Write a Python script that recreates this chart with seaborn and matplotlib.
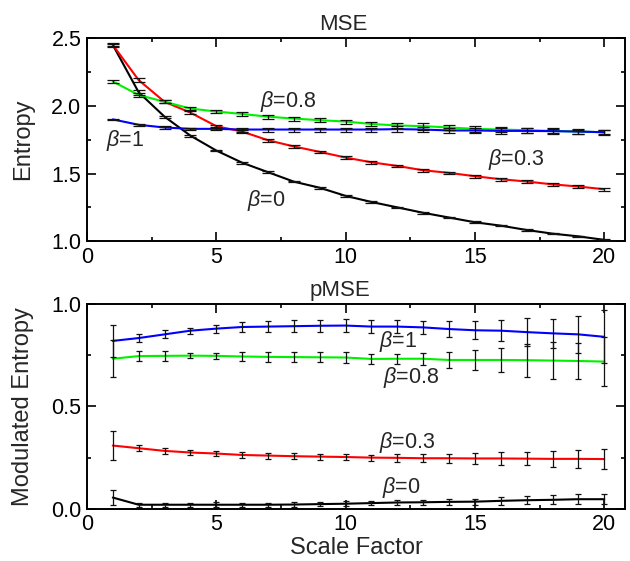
import numpy as np
import pandas as pd
import matplotlib
matplotlib.use("Agg")
import matplotlib.pyplot as plt
import seaborn as sns
from matplotlib.ticker import MultipleLocator

sns.set_style("ticks")
plt.rcParams['font.family'] = ['Liberation Sans', 'DejaVu Sans']
plt.rcParams['mathtext.fontset'] = 'custom'
plt.rcParams['mathtext.it'] = 'Liberation Sans:italic'
plt.rcParams['mathtext.rm'] = 'Liberation Sans'

scale = list(range(1, 21))
betas = ["0", "0.3", "0.8", "1"]
colors = {"0": "#000000", "0.3": "#ff0000", "0.8": "#00f000", "1": "#0000ff"}

# MSE (top)
mse_b0 = [2.45, 2.10, 1.92, 1.78, 1.67, 1.58, 1.51, 1.44, 1.395, 1.335, 1.29, 1.25, 1.21, 1.175, 1.14, 1.115, 1.083, 1.056, 1.036, 1.01]
mse_b03 = [2.45, 2.19, 2.03, 1.95, 1.85, 1.81, 1.746, 1.70, 1.66, 1.618, 1.583, 1.556, 1.524, 1.505, 1.48, 1.458, 1.441, 1.42, 1.404, 1.384]
mse_b08 = [2.18, 2.08, 2.03, 1.98, 1.958, 1.94, 1.92, 1.906, 1.894, 1.884, 1.866, 1.855, 1.85, 1.84, 1.83, 1.825, 1.82, 1.815, 1.81, 1.805]
mse_b1 = [1.90, 1.86, 1.84, 1.83, 1.83, 1.825, 1.825, 1.825, 1.825, 1.825, 1.825, 1.828, 1.825, 1.818, 1.818, 1.815, 1.815, 1.813, 1.81, 1.805]
mse_e0 = [0.012, 0.02, 0.008, 0.008, 0.006, 0.006, 0.006, 0.006, 0.006, 0.006, 0.006, 0.006, 0.006, 0.006, 0.006, 0.006, 0.006, 0.006, 0.006, 0.006]
mse_e03 = [0.01, 0.015, 0.012, 0.012, 0.01, 0.01, 0.01, 0.008, 0.008, 0.01, 0.01, 0.01, 0.01, 0.01, 0.01, 0.012, 0.012, 0.012, 0.012, 0.012]
mse_e08 = [0.008, 0.012, 0.012, 0.012, 0.01, 0.012, 0.015, 0.015, 0.015, 0.015, 0.018, 0.02, 0.025, 0.02, 0.02, 0.02, 0.018, 0.018, 0.015, 0.015]
mse_e1 = [0.006, 0.006, 0.008, 0.01, 0.012, 0.015, 0.015, 0.015, 0.015, 0.015, 0.015, 0.02, 0.02, 0.02, 0.02, 0.02, 0.018, 0.018, 0.02, 0.02]

# pMSE (bottom)
pmse_b0 = [0.055, 0.02, 0.02, 0.02, 0.02, 0.02, 0.02, 0.021, 0.023, 0.025, 0.028, 0.031, 0.032, 0.034, 0.035, 0.039, 0.042, 0.044, 0.047, 0.047]
pmse_b03 = [0.309, 0.296, 0.283, 0.275, 0.27, 0.263, 0.26, 0.257, 0.255, 0.253, 0.25, 0.249, 0.247, 0.247, 0.246, 0.246, 0.245, 0.244, 0.244, 0.243]
pmse_b08 = [0.733, 0.746, 0.747, 0.748, 0.747, 0.744, 0.742, 0.741, 0.74, 0.739, 0.732, 0.733, 0.733, 0.727, 0.727, 0.727, 0.726, 0.724, 0.722, 0.719]
pmse_b1 = [0.82, 0.834, 0.852, 0.87, 0.88, 0.888, 0.89, 0.892, 0.894, 0.895, 0.89, 0.89, 0.886, 0.878, 0.872, 0.87, 0.863, 0.857, 0.852, 0.84]
pmse_e0 = [0.035, 0.01, 0.01, 0.01, 0.012, 0.01, 0.01, 0.01, 0.01, 0.012, 0.01, 0.012, 0.013, 0.013, 0.015, 0.02, 0.02, 0.022, 0.025, 0.025]
pmse_e03 = [0.07, 0.015, 0.015, 0.013, 0.013, 0.013, 0.015, 0.015, 0.015, 0.015, 0.015, 0.018, 0.02, 0.022, 0.025, 0.03, 0.032, 0.04, 0.045, 0.05]
pmse_e08 = [0.09, 0.025, 0.025, 0.012, 0.013, 0.02, 0.025, 0.025, 0.025, 0.025, 0.025, 0.025, 0.03, 0.04, 0.05, 0.06, 0.08, 0.09, 0.09, 0.12]
pmse_e1 = [0.08, 0.02, 0.02, 0.015, 0.02, 0.022, 0.025, 0.03, 0.03, 0.03, 0.03, 0.03, 0.03, 0.04, 0.045, 0.05, 0.07, 0.07, 0.09, 0.13]

def long_df(vals, errs):
    rows = []
    for b, v, e in zip(betas, vals, errs):
        for s, y, err in zip(scale, v, e):
            rows.append({"scale": s, "value": y, "err": err, "beta": b})
    return pd.DataFrame(rows)

df_top = long_df([mse_b0, mse_b03, mse_b08, mse_b1], [mse_e0, mse_e03, mse_e08, mse_e1])
df_bot = long_df([pmse_b0, pmse_b03, pmse_b08, pmse_b1], [pmse_e0, pmse_e03, pmse_e08, pmse_e1])

fig = plt.figure(figsize=(6.3, 5.61), dpi=100)
ax1 = fig.add_axes([0.138, 0.570, 0.854, 0.362])
ax2 = fig.add_axes([0.138, 0.093, 0.854, 0.365])

def draw(ax, df, capsize):
    sns.lineplot(data=df, x="scale", y="value", hue="beta", palette=colors,
                 ax=ax, legend=False, linewidth=1.5, errorbar=None, sort=False)
    for b in betas:
        d = df[df.beta == b]
        ax.errorbar(d.scale, d.value, yerr=d.err, fmt="none", ecolor="#111111",
                    elinewidth=0.9, capsize=capsize, capthick=0.9, zorder=3)
    ax.set_xlim(0, 20.8)
    ax.xaxis.set_major_locator(MultipleLocator(5))
    ax.xaxis.set_minor_locator(MultipleLocator(2.5))
    ax.tick_params(which="both", direction="in", top=True, right=True,
                   labelsize=15.5, width=1.2, colors="black")
    ax.tick_params(which="major", length=6.5, pad=4)
    ax.tick_params(which="minor", length=3.2)
    for sp in ax.spines.values():
        sp.set_linewidth(1.4)
        sp.set_color("black")

draw(ax1, df_top, 4.5)
ax1.set_ylim(1.0, 2.5)
ax1.yaxis.set_major_locator(MultipleLocator(0.5))
ax1.yaxis.set_minor_locator(MultipleLocator(0.25))
ax1.set_xlabel("")
ax1.set_ylabel("Entropy", fontsize=17, labelpad=12)
ax1.set_title("MSE", fontsize=16, pad=6, x=0.476)

draw(ax2, df_bot, 2.0)
ax2.set_ylim(0.0, 1.0)
ax2.yaxis.set_major_locator(MultipleLocator(0.5))
ax2.yaxis.set_minor_locator(MultipleLocator(0.25))
ax2.set_xlabel("Scale Factor", fontsize=17, labelpad=1)
ax2.set_ylabel("Modulated Entropy", fontsize=17, labelpad=12)
ax2.set_title("pMSE", fontsize=16, pad=6, x=0.47)

fs = 15.5
ax1.text(6.7, 2.035, r"$\it{\beta}$=0.8", fontsize=fs, va="center")
ax1.text(0.75, 1.745, r"$\it{\beta}$=1", fontsize=fs, va="center")
ax1.text(6.2, 1.30, r"$\it{\beta}$=0", fontsize=fs, va="center")
ax1.text(15.5, 1.60, r"$\it{\beta}$=0.3", fontsize=fs, va="center")

ax2.text(11.3, 0.815, r"$\it{\beta}$=1", fontsize=fs, va="center")
ax2.text(11.45, 0.64, r"$\it{\beta}$=0.8", fontsize=fs, va="center")
ax2.text(11.3, 0.325, r"$\it{\beta}$=0.3", fontsize=fs, va="center")
ax2.text(11.4, 0.105, r"$\it{\beta}$=0", fontsize=fs, va="center")

fig.savefig("out.png", dpi=100)
